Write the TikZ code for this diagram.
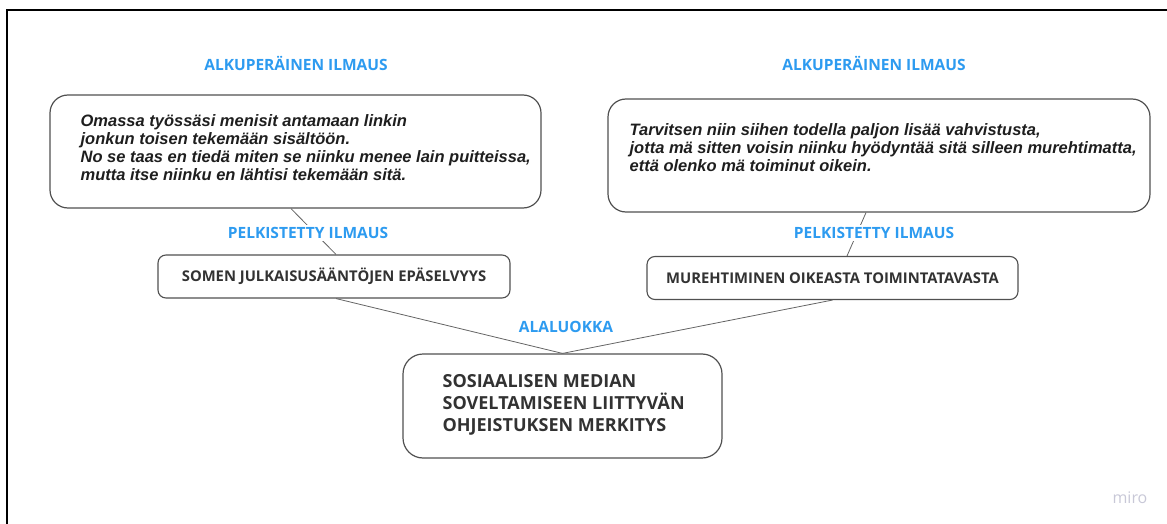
\documentclass[tikz,border=0pt]{standalone}
\usepackage{fontspec}
\setmainfont{Liberation Sans}
\newfontfamily\labelfont{Open Sans}
\definecolor{miroblue}{RGB}{45,155,240}
\definecolor{boxgray}{RGB}{80,80,80}
\definecolor{linegray}{RGB}{100,100,100}
\definecolor{quoteink}{RGB}{30,30,30}
\definecolor{boxink}{RGB}{50,50,50}
\definecolor{miroink}{RGB}{200,200,215}

\begin{document}
\begin{tikzpicture}[x=1pt,y=-1pt,heading/.style={font=\labelfont\bfseries\fontsize{15.5}{18}\selectfont,text=miroblue,fill=white,inner sep=2pt},quote/.style={draw=boxgray,line width=1.2pt,rounded corners=18pt},quotetext/.style={font=\bfseries\itshape\fontsize{16.5}{18}\selectfont,text=quoteink,align=left,anchor=west,inner sep=0pt},simplified/.style={draw=boxgray,line width=1.1pt,rounded corners=8pt,minimum height=43pt,font=\labelfont\bfseries\fontsize{14.8}{17}\selectfont,text=boxink},category/.style={draw=boxgray,line width=1.2pt,rounded corners=20pt,minimum width=319pt,minimum height=104pt},link/.style={draw=linegray,line width=0.8pt}]
  \useasboundingbox (0,0) rectangle (1167,524);
  \draw[line width=2pt] (6.5,524) -- (6.5,10.5) -- (1167,10.5);
  \node[quote,minimum width=491pt,minimum height=113pt] (origleft) at (295.5,151.5) {};
  \node[quotetext] (origlefttext) at ([xshift=31pt,yshift=4pt]origleft.west) {Omassa työssäsi menisit antamaan linkin\\jonkun toisen tekemään sisältöön.\\No se taas en tiedä miten se niinku menee lain puitteissa,\\mutta itse niinku en lähtisi tekemään sitä.};
  \node[quote,minimum width=542pt,minimum height=113pt] (origright) at (879,155.5) {};
  \node[quotetext] (origrighttext) at ([xshift=22pt,yshift=7.5pt]origright.west) {Tarvitsen niin siihen todella paljon lisää vahvistusta,\\jotta mä sitten voisin niinku hyödyntää sitä silleen murehtimatta,\\että olenko mä toiminut oikein.};
  \node[simplified,minimum width=352pt] (simpleleft) at (334,276.5) {SOMEN JULKAISUSÄÄNTÖJEN EPÄSELVYYS};
  \node[simplified,minimum width=371pt] (simpleright) at (832.5,278) {MUREHTIMINEN OIKEASTA TOIMINTATAVASTA};
  \node[category] (subclass) at (562.5,406) {};
  \node[font=\labelfont\bfseries\fontsize{18}{22}\selectfont,text=boxink,align=left,anchor=west,inner sep=0pt] (subclasstext) at ([xshift=40pt,yshift=1pt]subclass.west) {SOSIAALISEN MEDIAN\\SOVELTAMISEEN LIITTYVÄN\\OHJEISTUKSEN MERKITYS};
  \draw[link] ([xshift=-4.5pt]origleft.south) -- ([xshift=2pt]simpleleft.north);
  \draw[link] ([xshift=-13pt]origright.south) -- ([xshift=14.5pt]simpleright.north);
  \draw[link] ([xshift=2pt]simpleleft.south) -- (subclass.north);
  \draw[link] (simpleright.south) -- (subclass.north);
  \node[heading] (origleftlabel) at (296,63) {ALKUPERÄINEN ILMAUS};
  \node[heading] (origrightlabel) at (874,63) {ALKUPERÄINEN ILMAUS};
  \node[heading] (simpleleftlabel) at (308,233) {PELKISTETTY ILMAUS};
  \node[heading] (simplerightlabel) at (874,233) {PELKISTETTY ILMAUS};
  \node[heading] (subclasslabel) at (566,327) {ALALUOKKA};
  \node[font=\labelfont\fontsize{16}{18}\selectfont,text=miroink] (miro) at (1130,498) {miro};
\end{tikzpicture}
\end{document}
